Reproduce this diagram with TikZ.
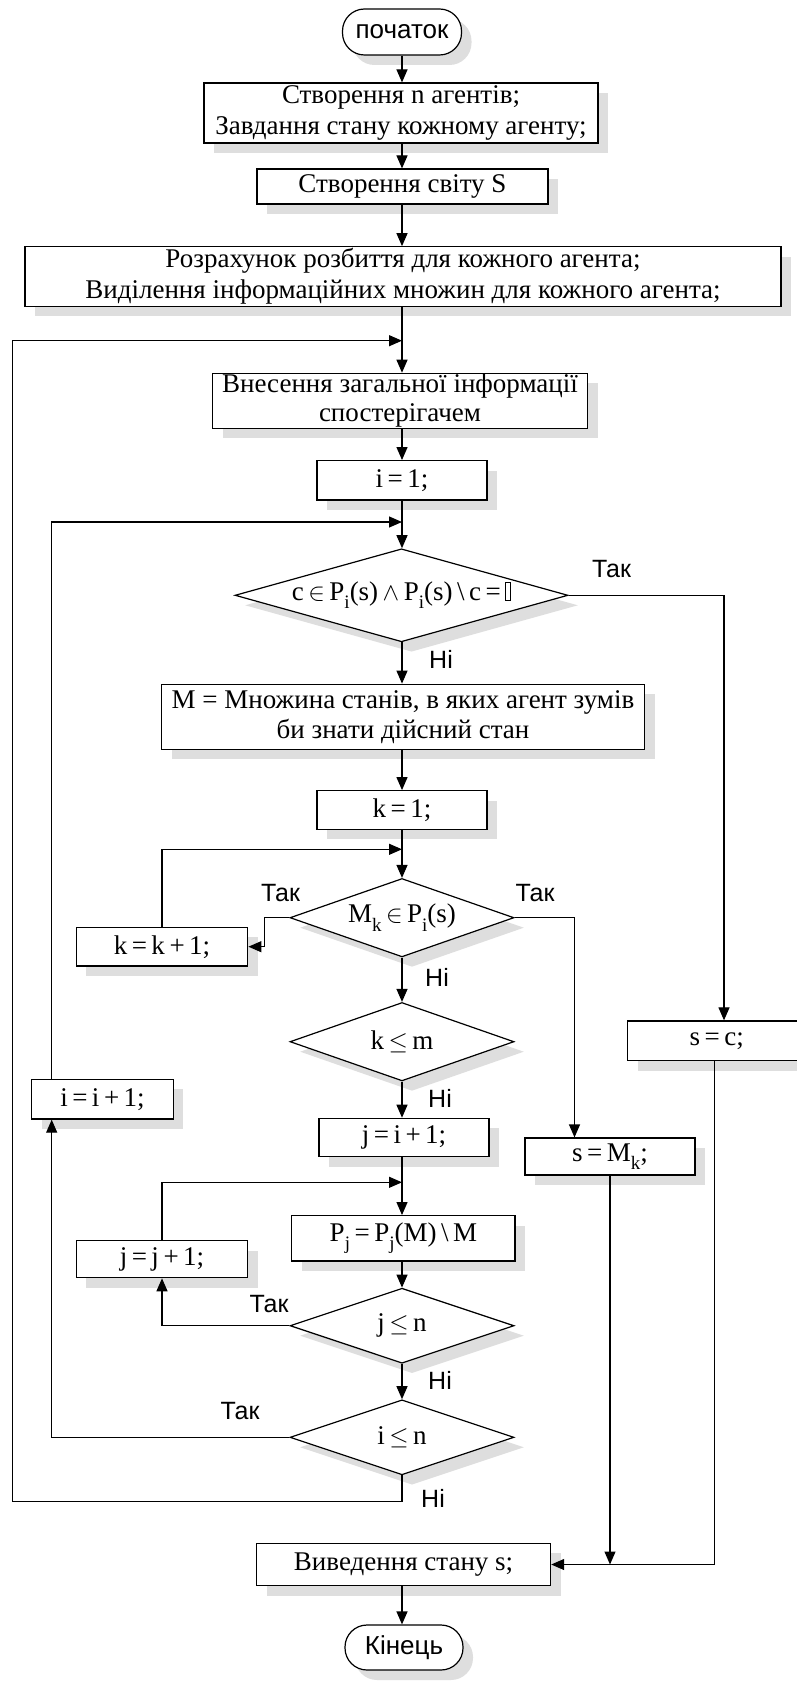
\documentclass[tikz,border=0pt]{standalone}
\usepackage{fontspec}
\setmainfont{Liberation Serif}
\newfontfamily\labfont{Liberation Sans}
\usetikzlibrary{arrows.meta,shapes.geometric,shadows}

% lowered subscript used in the formulas
\newcommand{\lo}[1]{\raisebox{-0.32em}{\fontsize{19}{19}\selectfont #1}}
% narrow framed glyph after the last "="
\newcommand{\tofu}{{\fboxsep=0pt\fboxrule=0.9pt\fbox{\rule{0pt}{17pt}\hspace{4pt}}}}

\begin{document}
\begin{tikzpicture}[x=1pt,y=-1pt,line width=1.2pt,
  flow/.style={-{Triangle[length=13pt,width=11pt]}},
  shade/.style={drop shadow={shadow xshift=10pt,shadow yshift=-10pt,fill=black!13,opacity=1}},
  proc/.style={draw,fill=white,rectangle,inner sep=0pt,align=center,shade,
    font=\fontsize{27}{31}\selectfont},
  cond/.style={draw,fill=white,diamond,inner sep=0pt,shade,
    font=\fontsize{27}{31}\selectfont},
  term/.style={draw,fill=white,rounded corners=22pt,inner sep=0pt,shade,
    font=\labfont\fontsize{26}{30}\selectfont},
  lbl/.style={font=\labfont\fontsize{25}{30}\selectfont,inner sep=0pt},
]
\fill[white] (0,0) rectangle (797,1696);
\useasboundingbox (0,0) rectangle (797,1696);

% ---- blocks ----
\node[term,minimum width=119pt,minimum height=46pt] (start) at (402,32) {початок};
\node[proc,minimum width=394pt,minimum height=60pt] (b1) at (401,113)
  {Створення n агентів;\\Завдання стану кожному агенту;};
\node[proc,minimum width=291pt,minimum height=35pt] (b2) at (402.5,186.5) {Створення світу S};
\node[proc,minimum width=756pt,minimum height=59.5pt] (b3) at (403,276.5)
  {Розрахунок розбиття для кожного агента;\\Виділення інформаційних множин для кожного агента;};
\node[proc,minimum width=375pt,minimum height=55pt,font=\fontsize{27}{29}\selectfont] (b4) at (400,400.8)
  {Внесення загальної інформації\\спостерігачем};
\node[proc,minimum width=170pt,minimum height=39.3pt] (b5) at (402,480.3) {i\,=\,1;};
\node[cond,minimum width=333pt,minimum height=93pt,aspect=3.58] (d1) at (401.5,595.3)
  {c\,$\in$\,P\lo{i}(s)\,$\wedge$\,P\lo{i}(s)\,\textbackslash\,c\,=\,\tofu};
\node[proc,minimum width=483pt,minimum height=65pt,font=\fontsize{27}{30}\selectfont] (b6) at (403,716.7)
  {M = Множина станів, в яких агент зумів\\би знати дійсний стан};
\node[proc,minimum width=170pt,minimum height=38.6pt] (b7) at (402,810) {k\,=\,1;};
\node[cond,minimum width=224pt,minimum height=78.4pt,aspect=2.86] (d2) at (402,917.7)
  {M\lo{k}\,$\in$\,P\lo{i}(s)};
\node[proc,minimum width=171.6pt,minimum height=38.7pt] (b8) at (162,946.7) {k\,=\,k\,+\,1;};
\node[cond,minimum width=224pt,minimum height=78.4pt,aspect=2.86] (d3) at (402,1041.7)
  {k\,$\leq$\,m};
\node[proc,minimum width=178pt,minimum height=39.7pt] (bsc) at (716.7,1040.8) {s\,=\,c;};
\node[proc,minimum width=141.6pt,minimum height=39.7pt] (bi) at (102.5,1099.2) {i\,=\,i\,+\,1;};
\node[proc,minimum width=170pt,minimum height=38.4pt] (bj) at (404,1137.5) {j\,=\,i\,+\,1;};
\node[proc,minimum width=170pt,minimum height=37pt] (bsm) at (610,1156.5) {s\,=\,M\lo{k};};
\node[proc,minimum width=223.3pt,minimum height=45.3pt] (bp) at (403.4,1238.3)
  {P\lo{j}\,=\,P\lo{j}(M)\,\textbackslash\,M};
\node[proc,minimum width=171.3pt,minimum height=37pt] (bjj) at (162,1259.2) {j\,=\,j\,+\,1;};
\node[cond,minimum width=224pt,minimum height=75pt,aspect=3] (d4) at (402,1325.7) {j\,$\leq$\,n};
\node[cond,minimum width=224pt,minimum height=75pt,aspect=3] (d5) at (402,1437.3) {i\,$\leq$\,n};
\node[proc,minimum width=294pt,minimum height=42.4pt] (bout) at (403.6,1564.5) {Виведення стану s;};
\node[term,minimum width=118pt,minimum height=45pt] (end) at (404,1647.5) {Кінець};

% ---- branch labels ----
\node[lbl] (t1) at (611.5,569) {Так};
\node[lbl] (n1) at (441,659) {Ні};
\node[lbl] (t2a) at (280.5,893) {Так};
\node[lbl] (t2b) at (535,893) {Так};
\node[lbl] (n2) at (437,977) {Ні};
\node[lbl] (n3) at (440,1098) {Ні};
\node[lbl] (t4) at (269,1304) {Так};
\node[lbl] (n4) at (440,1380) {Ні};
\node[lbl] (t5) at (240,1411) {Так};
\node[lbl] (n5) at (433,1498) {Ні};

% ---- main column ----
\coordinate (ax) at (402,0);
\draw[flow] (start.south -| ax) -- (b1.north -| ax);
\draw[flow] (b1.south -| ax) -- (b2.north -| ax);
\draw[flow] (b2.south -| ax) -- (b3.north -| ax);
\draw[flow] (b3.south -| ax) -- (b4.north -| ax);
\draw[flow] (b4.south -| ax) -- (b5.north -| ax);
\draw[flow] (b5.south -| ax) -- (d1.north -| ax);
\draw[flow] (d1.south -| ax) -- (b6.north -| ax);
\draw[flow] (b6.south -| ax) -- (b7.north -| ax);
\draw[flow] (b7.south -| ax) -- (d2.north -| ax);
\draw[flow] (d2.south -| ax) -- (d3.north -| ax);
\draw[flow] (d3.south -| ax) -- (bj.north -| ax);
\draw[flow] (bj.south -| ax) -- (bp.north -| ax);
\draw[flow] (bp.south -| ax) -- (d4.north -| ax);
\draw[flow] (d4.south -| ax) -- (d5.north -| ax);
\draw[flow] (bout.south -| ax) -- (end.north -| ax);

% ---- loop re-entry points ----
\coordinate (jA) at (402,340.7);
\coordinate (jB) at (402,522);
\coordinate (jC) at (402,849.3);
\coordinate (jD) at (402,1182.3);
\coordinate (cOut) at (12.5,1501.7);

% outer loop (i <= n, No)
\draw[flow] (d5.south -| ax) -- (cOut -| ax) -- (cOut) |- (jA);
% i loop
\draw[flow] (d5.west) -| ([xshift=-50.8pt]bi.south);
\draw[flow] ([xshift=-50.8pt]bi.north) |- (jB);
% k loop
\draw[flow] (d2.west) -- ++(-25,0) |- (b8.east);
\draw[flow] (b8.north) |- (jC);
% j loop
\draw[flow] (d4.west) -| (bjj.south);
\draw[flow] (bjj.north) |- (jD);
% exits to the result
\draw[flow] (d1.east) -| ([xshift=7.3pt]bsc.north);
\draw[flow] (d2.east) -| ([xshift=-35.5pt]bsm.north);
\draw[flow] (bsm.south) -- (bsm.south |- bout.east);
\draw[flow] ([xshift=-2.4pt]bsc.south) |- (bout.east);
\end{tikzpicture}
\end{document}
